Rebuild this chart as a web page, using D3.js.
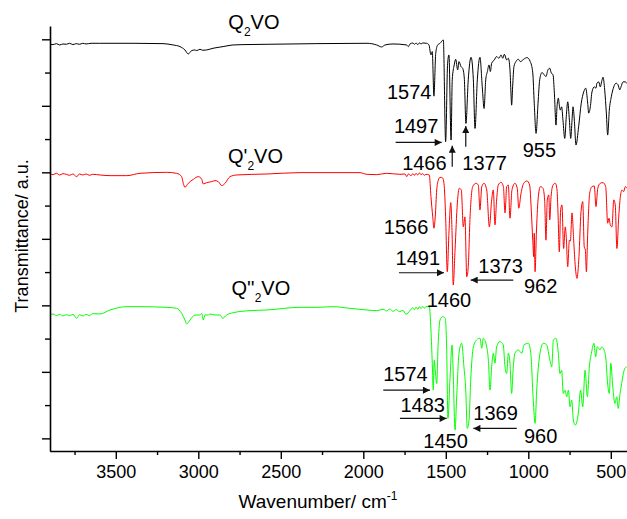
<!DOCTYPE html>
<html>
<head>
<meta charset="utf-8">
<script src="https://cdn.jsdelivr.net/npm/d3@7"></script>
<style>
  body { margin: 0; background: #fff; }
  text { font-family: "Liberation Sans", Arial, sans-serif; fill: #000; }
</style>
</head>
<body>
<div id="chart"></div>
<script>
// wavenumber (cm-1), transmittance (a.u., offset traces)
const q2vo = [[3899,118.5],[3880,118.4],[3860,118.7],[3840,118.3],[3820,118.6],[3800,118.5],[3780,118.8],[3760,118.4],[3740,118.7],[3720,118.5],[3700,118.8],[3680,118.6],[3650,118.8],[3600,118.8],[3396,118.8],[3214,118.7],[3153,118.3],[3111,117.8],[3081,116.8],[3061,115.6],[3040,116.6],[3020,116.8],[3010,116.6],[2990,117.0],[2972,116.7],[2949,116.8],[2911,117.3],[2850,117.8],[2790,118.3],[2729,118.4],[2584,118.5],[2281,118.7],[1978,118.8],[1919,118.3],[1889,117.7],[1868,118.3],[1820,118.6],[1737,118.3],[1727,117.8],[1717,118.6],[1699,118.9],[1690,118.5],[1680,118.9],[1670,118.4],[1660,118.9],[1650,118.6],[1640,118.9],[1616,118.8],[1602,118.3],[1590,115.3],[1582,116.3],[1572,102.9],[1561,115.8],[1549,118.3],[1535,118.8],[1515,119.8],[1501,89.2],[1489,112.8],[1481,115.3],[1468,89.7],[1461,107.8],[1449,112.3],[1440,114.0],[1428,110.8],[1420,113.3],[1408,111.8],[1398,111.3],[1388,108.4],[1378,94.7],[1364,107.8],[1347,114.6],[1333,107.8],[1323,93.2],[1309,107.8],[1293,114.6],[1279,105.7],[1268,99.2],[1258,107.8],[1248,110.3],[1238,112.3],[1230,110.3],[1222,112.8],[1206,113.8],[1192,114.8],[1178,114.3],[1165,115.3],[1155,114.3],[1145,115.5],[1131,113.8],[1121,114.3],[1111,110.8],[1105,103.8],[1101,100.2],[1095,105.7],[1087,111.8],[1075,113.3],[1061,114.0],[1048,113.3],[1028,114.0],[1008,114.5],[988,113.3],[973,109.9],[964,100.8],[953,91.7],[941,100.8],[931,107.8],[917,110.0],[903,109.3],[893,108.8],[881,110.8],[870,111.3],[861,109.9],[850,109.3],[842,103.8],[832,94.2],[826,99.7],[818,102.3],[812,100.2],[806,98.7],[798,99.7],[790,95.7],[779,90.2],[770,96.7],[761,101.2],[751,95.7],[743,90.2],[735,95.7],[729,99.7],[721,95.7],[711,88.2],[695,93.7],[679,100.8],[664,104.2],[652,105.3],[640,100.8],[634,97.8],[624,99.7],[614,104.2],[600,105.7],[590,105.3],[584,106.8],[573,107.2],[564,105.7],[553,107.8],[547,108.6],[537,104.8],[527,97.8],[519,91.2],[509,98.7],[497,102.7],[482,105.7],[468,106.8],[456,106.3],[446,104.8],[438,105.7],[426,107.2],[412,107.2],[402,106.7]];

const q2voP = [[3899,79.5],[3880,79.3],[3860,79.7],[3840,79.2],[3820,79.6],[3800,79.4],[3780,79.1],[3760,79.5],[3737,78.7],[3720,79.5],[3700,79.2],[3680,79.5],[3660,79.1],[3640,79.4],[3596,79.2],[3535,79.0],[3434,79.0],[3353,79.7],[3192,80.0],[3131,79.7],[3101,78.7],[3091,76.7],[3081,75.5],[3061,76.7],[3030,77.9],[3000,78.7],[2979,77.9],[2970,76.5],[2949,76.9],[2919,77.2],[2899,77.5],[2879,77.2],[2858,76.0],[2838,76.7],[2808,78.7],[2767,79.2],[2584,79.5],[2384,79.9],[2020,79.9],[1979,79.4],[1919,79.3],[1858,79.7],[1778,79.4],[1747,79.5],[1737,78.7],[1727,79.5],[1710,79.0],[1700,79.6],[1690,79.1],[1680,79.7],[1670,79.2],[1660,79.8],[1650,79.3],[1640,79.6],[1630,79.1],[1620,79.4],[1600,79.2],[1590,72.7],[1579,66.6],[1572,63.2],[1564,66.6],[1555,74.7],[1545,77.7],[1535,78.5],[1519,78.3],[1511,76.7],[1501,66.6],[1491,50.1],[1481,61.7],[1470,70.9],[1462,61.7],[1455,46.1],[1444,56.6],[1430,70.8],[1418,75.2],[1406,74.7],[1394,63.6],[1384,66.6],[1373,48.6],[1364,51.6],[1353,66.6],[1337,75.7],[1317,76.7],[1303,76.2],[1293,68.7],[1282,75.7],[1268,76.7],[1252,74.7],[1236,63.6],[1222,71.7],[1212,74.7],[1202,64.2],[1192,71.7],[1182,76.2],[1165,77.0],[1151,75.7],[1141,67.8],[1131,75.7],[1121,76.2],[1111,66.2],[1099,74.7],[1081,76.7],[1067,75.2],[1058,69.2],[1044,73.7],[1028,76.7],[1008,77.4],[992,76.2],[982,68.7],[973,59.6],[967,54.6],[964,61.7],[959,50.1],[951,61.7],[941,71.7],[927,75.7],[911,75.2],[901,71.7],[893,59.6],[885,71.7],[876,73.2],[870,65.7],[862,72.7],[850,76.2],[836,76.7],[826,74.7],[820,67.8],[812,56.1],[804,68.7],[796,70.2],[786,57.1],[776,63.6],[770,60.6],[761,51.6],[751,59.6],[745,59.3],[735,67.8],[725,59.6],[715,51.6],[705,48.1],[693,54.6],[681,67.8],[670,71.2],[661,57.6],[654,56.6],[648,50.1],[640,61.7],[628,73.7],[614,75.7],[600,75.9],[590,69.7],[579,75.2],[564,76.7],[547,76.9],[531,75.7],[519,64.7],[511,66.2],[503,64.2],[493,63.6],[482,71.7],[473,70.2],[463,57.1],[452,66.6],[442,72.7],[432,74.7],[422,74.2],[412,75.7],[402,75.2]];

const q2voPP = [[3899,37.1],[3880,37.4],[3860,36.9],[3840,37.3],[3820,36.8],[3800,37.2],[3780,36.9],[3760,37.3],[3737,36.1],[3720,37.2],[3700,36.8],[3680,37.3],[3660,36.9],[3640,37.5],[3596,37.4],[3535,38.6],[3434,39.6],[3353,39.6],[3192,39.4],[3131,39.1],[3101,37.6],[3081,35.6],[3070,34.4],[3050,35.6],[3020,37.1],[2990,37.1],[2979,37.6],[2970,35.6],[2959,37.1],[2939,37.1],[2929,37.4],[2899,37.1],[2868,37.1],[2852,36.1],[2828,37.1],[2788,37.8],[2687,38.4],[2585,38.6],[2384,39.4],[2282,39.4],[2182,39.6],[2081,39.1],[1979,38.6],[1919,38.4],[1879,38.8],[1860,38.3],[1840,38.9],[1820,38.2],[1800,38.7],[1780,38.1],[1760,38.5],[1741,37.3],[1717,38.4],[1700,39.3],[1690,38.7],[1680,39.5],[1670,38.8],[1660,39.6],[1650,39.0],[1640,39.7],[1630,39.1],[1620,39.6],[1600,39.6],[1590,32.6],[1582,22.6],[1576,14.5],[1570,23.5],[1564,20.5],[1555,16.5],[1547,27.5],[1535,35.6],[1519,36.6],[1503,36.1],[1495,27.5],[1487,6.0],[1475,17.5],[1462,28.1],[1455,19.5],[1444,2.5],[1434,12.5],[1420,25.6],[1404,28.6],[1390,21.5],[1379,14.5],[1370,3.0],[1359,5.5],[1349,17.5],[1333,27.5],[1313,29.6],[1293,30.1],[1282,27.1],[1273,30.1],[1252,27.5],[1242,23.5],[1232,14.5],[1222,21.5],[1212,25.6],[1202,22.6],[1192,27.5],[1172,29.1],[1152,28.1],[1141,21.5],[1131,19.5],[1121,25.6],[1111,22.6],[1101,13.5],[1091,21.5],[1081,25.6],[1061,26.6],[1040,25.6],[1026,28.1],[1000,28.6],[985,25.6],[970,11.5],[959,4.5],[949,14.5],[929,25.6],[909,28.6],[889,28.1],[869,23.5],[858,21.5],[848,29.6],[832,30.1],[818,25.6],[808,19.5],[798,20.5],[788,13.5],[778,14.5],[767,12.5],[757,14.5],[747,9.5],[737,11.5],[727,5.5],[715,4.0],[697,7.5],[683,14.5],[670,9.5],[656,20.5],[642,12.5],[630,21.5],[616,26.0],[602,28.6],[592,24.5],[582,27.5],[565,26.6],[555,27.5],[541,26.6],[529,23.5],[521,17.5],[509,13.5],[500,22.6],[488,15.5],[475,10.5],[464,12.5],[455,9.0],[444,13.5],[434,16.5],[424,19.5],[414,21.1],[404,21.5]];

const xMajor = [3500, 3000, 2500, 2000, 1500, 1000, 500];
const xMinor = [3750, 3250, 2750, 2250, 1750, 1250, 750];
const yMajor = [0, 20, 40, 60, 80, 100, 120];
const yMinor = [10, 30, 50, 70, 90, 110];

// series name pieces: prefix, subscript, suffix; label anchor [wn, T]
const seriesNames = [
  { pre: "Q", sub: "2", post: "VO", at: [2818, 123.0] },
  { pre: "Q'", sub: "2", post: "VO", at: [2820, 82.7] },
  { pre: "Q''", sub: "2", post: "VO", at: [2799, 43.1] }
];
const seriesColors = ["#000000", "#ff0000", "#00ff00"];

// peak labels: text, [wn, T] of baseline, anchor
const peakLabels = [
  ["1574", [1587, 102.0], "end"], ["1497", [1545, 91.7], "end"], ["1466", [1495, 80.7], "end"],
  ["1377", [1400, 80.7], "start"], ["955", [1034, 84.7], "start"],
  ["1566", [1606, 61.4], "end"], ["1491", [1535, 52.2], "end"], ["1373", [1303, 49.6], "start"],
  ["962", [1026, 43.6], "start"], ["1460", [1616, 39.6], "start"],
  ["1574", [1610, 17.2], "end"], ["1483", [1505, 8.0], "end"], ["1369", [1333, 5.5], "start"],
  ["1450", [1636, -3.0], "start"], ["960", [1026, -1.5], "start"]
];
// arrows: from [wn, T] to [wn, T]
const arrows = [
  [[1804, 89.0], [1525, 89.0]], [[1461, 81.7], [1461, 88.0]], [[1379, 87.7], [1379, 93.9]],
  [[1784, 49.8], [1511, 49.8]], [[1091, 47.6], [1349, 47.6]],
  [[1879, 14.5], [1596, 14.5]], [[1778, 6.0], [1495, 6.0]], [[1070, 3.0], [1333, 3.0]]
];

const width = 627, height = 519;
const svg = d3.select("#chart").append("svg")
  .attr("width", width).attr("height", height);

const x = d3.scaleLinear().domain([3900, 400]).range([49.8, 627.3]);
const y = d3.scaleLinear().domain([-3.8, 124]).range([451, 26]);

// ---- traces ----
const line = d3.line()
  .x(d => x(d[0]))
  .y(d => y(d[1]))
  .curve(d3.curveMonotoneX);

[q2vo, q2voP, q2voPP].forEach((s, i) => {
  svg.append("path")
    .datum(s)
    .attr("d", line)
    .attr("fill", "none")
    .attr("stroke", seriesColors[i])
    .attr("stroke-width", 1)
    .attr("stroke-linejoin", "round");
});

// ---- axes ----
const gx = svg.append("g").attr("transform", "translate(0,451)");
gx.call(d3.axisBottom(x).tickValues(xMajor).tickSize(8).tickSizeOuter(0).tickPadding(6).tickFormat(d3.format("d")));
gx.append("g").call(d3.axisBottom(x).tickValues(xMinor).tickSize(4).tickFormat(""))
  .select(".domain").remove();
gx.selectAll("text").style("font-size", "18px").style("font-family", "'Liberation Sans', Arial, sans-serif");

const gy = svg.append("g").attr("transform", "translate(50,0)");
gy.call(d3.axisLeft(y).tickValues(yMajor).tickSize(8).tickSizeOuter(0).tickFormat(""));
gy.append("g").call(d3.axisLeft(y).tickValues(yMinor).tickSize(5).tickFormat(""))
  .select(".domain").remove();

svg.selectAll(".domain").attr("stroke-width", 1.6);
svg.selectAll(".tick line").attr("stroke-width", 1.4);

// Axis titles
const xt = svg.append("text")
  .attr("x", 318).attr("y", 508)
  .style("text-anchor", "middle")
  .style("font-size", "19px");
xt.append("tspan").text("Wavenumber/ cm");
xt.append("tspan").attr("dy", -8).style("font-size", "12px").text("-1");

svg.append("text")
  .attr("transform", "rotate(-90)")
  .attr("x", -236).attr("y", 28)
  .style("text-anchor", "middle")
  .style("font-size", "18px")
  .text("Transmittance/ a.u.");

// ---- series labels ----
seriesNames.forEach(n => {
  const t = svg.append("text")
    .attr("x", x(n.at[0])).attr("y", y(n.at[1]))
    .style("font-size", "20px");
  t.append("tspan").text(n.pre);
  t.append("tspan").attr("dy", 7).style("font-size", "12px").text(n.sub);
  t.append("tspan").attr("dy", -7).text(n.post);
});

// ---- peak annotations ----
svg.selectAll(".peak")
  .data(peakLabels)
  .enter()
  .append("text")
  .attr("class", "peak")
  .attr("x", d => x(d[1][0]))
  .attr("y", d => y(d[1][1]))
  .style("text-anchor", d => d[2])
  .style("font-size", "20px")
  .text(d => d[0]);

svg.append("defs").append("marker")
  .attr("id", "head")
  .attr("viewBox", "0 0 10 10")
  .attr("refX", 10).attr("refY", 5)
  .attr("markerWidth", 9).attr("markerHeight", 7)
  .attr("markerUnits", "userSpaceOnUse")
  .attr("orient", "auto")
  .append("path")
  .attr("d", "M0,0 L10,5 L0,10 Z")
  .attr("fill", "#111");

svg.selectAll(".arrow")
  .data(arrows)
  .enter()
  .append("line")
  .attr("class", "arrow")
  .attr("x1", d => x(d[0][0])).attr("y1", d => y(d[0][1]))
  .attr("x2", d => x(d[1][0])).attr("y2", d => y(d[1][1]))
  .attr("stroke", "#111")
  .attr("stroke-width", 1.2)
  .attr("marker-end", "url(#head)");
</script>
</body>
</html>
